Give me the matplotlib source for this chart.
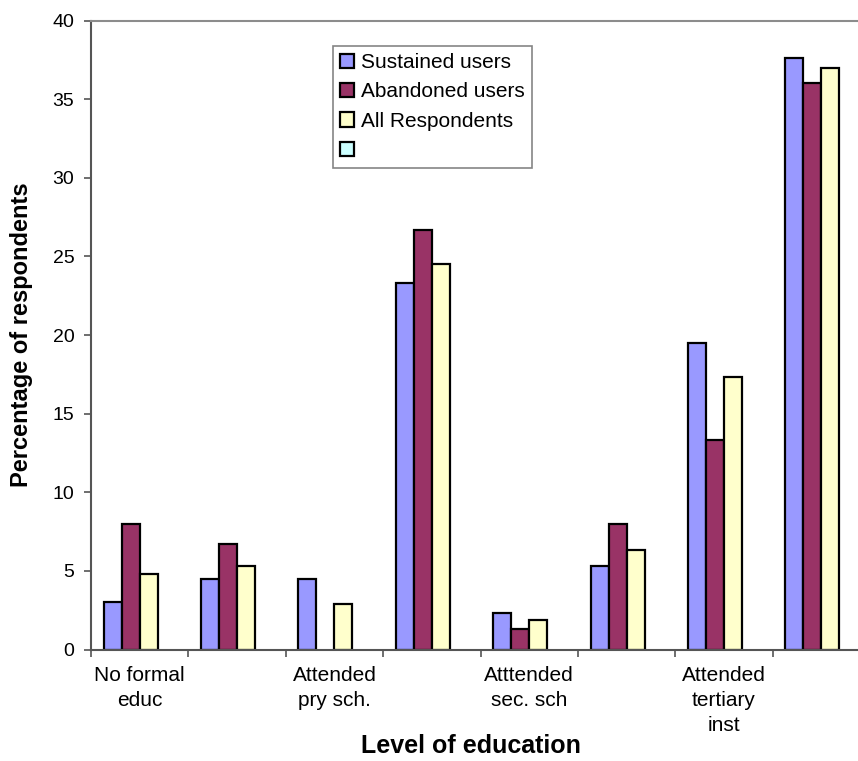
import matplotlib.pyplot as plt
import numpy as np

plt.rcParams['font.family'] = ['Liberation Sans', 'DejaVu Sans']

# percentage of respondents per education level
levels = ['No formal\neduc', '', 'Attended\npry sch.', '', 'Atttended\nsec. sch', '',
          'Attended\ntertiary\ninst', '']
sustained = [3.0, 4.5, 4.5, 23.3, 2.3, 5.3, 19.5, 37.6]
abandoned = [8.0, 6.7, 0.0, 26.7, 1.3, 8.0, 13.3, 36.0]
all_resp = [4.8, 5.3, 2.9, 24.5, 1.9, 6.3, 17.3, 37.0]
extra = [0, 0, 0, 0, 0, 0, 0, 0]

series = [
    ('Sustained users', sustained, '#9999FF'),
    ('Abandoned users', abandoned, '#993366'),
    ('All Respondents', all_resp, '#FFFFCC'),
    (' ', extra, '#CCFFFF'),
]

fig = plt.figure(figsize=(8.58, 7.61), dpi=100)
ax = fig.add_axes([91 / 858, 111.5 / 761, 779 / 858, 629 / 761])

x = np.arange(len(levels))
w = 0.185
bars = []
for i, (name, vals, col) in enumerate(series):
    b = ax.bar(x + (i - 1.5) * w, vals, width=w, color=col, edgecolor='black',
               linewidth=1.6, label=name)
    bars.append(b)

ax.set_xlim(-0.5, len(levels) - 0.5)
ax.set_ylim(0, 40)
ax.set_yticks(np.arange(0, 41, 5))
ax.set_xticks(x)
ax.set_xticklabels(levels, fontsize=15, linespacing=1.4)
ax.set_xticks(np.arange(-0.5, len(levels), 1), minor=True)
ax.tick_params(axis='x', which='major', length=0, pad=12)
ax.tick_params(axis='x', which='minor', length=5, width=1.2, color='#555555')
ax.tick_params(axis='y', length=5, width=1.2, color='#555555', labelsize=14, pad=7)

for side in ['left', 'bottom']:
    ax.spines[side].set_color('#555555')
    ax.spines[side].set_linewidth(1.5)
ax.spines['top'].set_color('#8c8c8c')
ax.spines['top'].set_linewidth(1.5)
ax.spines['right'].set_visible(False)

fig.text(22 / 858, 1 - 334.5 / 761, 'Percentage of respondents', fontsize=17,
         fontweight='bold', rotation=90, ha='center', va='center')
fig.text(471 / 858, 1 - 753 / 761, 'Level of education', fontsize=18,
         fontweight='bold', ha='center', va='baseline')

leg = ax.legend(loc='upper left', bbox_to_anchor=(333 / 858, 1 - 45.7 / 761),
                bbox_transform=fig.transFigure, borderaxespad=0, fancybox=False,
                fontsize=15, handlelength=0.68, handleheight=0.68, handletextpad=0.3,
                labelspacing=0.5, borderpad=0.35)
leg.get_frame().set_edgecolor('#666666')
leg.get_frame().set_linewidth(1.2)

# empty bars leave no outline on the baseline
for b in bars:
    for p in b.patches:
        if p.get_height() == 0:
            p.set_linewidth(0)

fig.savefig('out.png', dpi=100)
